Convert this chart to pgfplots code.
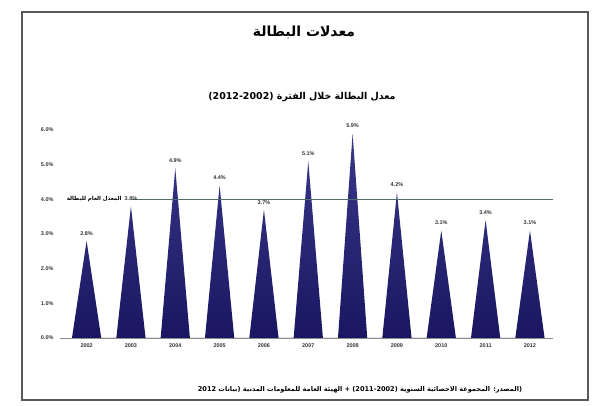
\documentclass[border=0pt]{standalone}
\usepackage{fontspec}
\usepackage{pgfplots}
\pgfplotsset{compat=1.18}
\setmainfont{Liberation Sans}
\newfontfamily\arabicfont[Script=Arabic]{DejaVu Sans}
\TeXXeTstate=1
\definecolor{navyD}{RGB}{26,22,98}
\definecolor{navyL}{RGB}{58,56,138}
\definecolor{avgline}{RGB}{80,110,110}
\begin{document}
\begin{tikzpicture}
\useasboundingbox (0bp,0bp) rectangle (596bp,406bp);
\draw[black!65, line width=1.3bp] (22bp,6bp) rectangle (588bp,394bp);
\node[font=\arabicfont\bfseries\fontsize{14}{16}\selectfont] at (304bp,374bp) {\beginR معدلات البطالة\endR};
\node[font=\arabicfont\bfseries\fontsize{9.5}{11}\selectfont] at (302bp,309bp) {\beginR معدل البطالة خلال الفترة \beginL(2012-2002)\endL\endR};
\node[font=\arabicfont\bfseries\fontsize{6.6}{7.5}\selectfont] at (360bp,16bp) {\beginR(المصدر: المجموعة الاحصائية السنوية \beginL(2011-2002)\endL{} + الهيئة العامة للمعلومات المدنية (بيانات \beginL2012\endL\endR};
\begin{axis}[
    at={(60bp,68bp)}, anchor=south west,
    scale only axis, width=493bp, height=208bp,
    xmin=-0.6, xmax=10.52, ymin=0, ymax=6,
    axis lines*=left,
    y axis line style={draw=none},
    x axis line style={black!45, -},
    tick style={draw=none},
    xtick={0,...,10},
    xticklabels={2002,2003,2004,2005,2006,2007,2008,2009,2010,2011,2012},
    ytick={0,1,2,3,4,5,6},
    yticklabel={\pgfmathprintnumber[fixed,fixed zerofill,precision=1]{\tick}\%},
    /pgf/number format/assume math mode=true,
    ticklabel style={font=\bfseries\fontsize{5.5}{6}\selectfont, text=black!80},
    xticklabel style={yshift=-2bp},
    yticklabel style={xshift=-3bp},
    clip=false,
]
% triangles: base half-width 0.33, peaks at the yearly rates
\addplot[draw=none, shading=axis, bottom color=navyD, top color=navyL] coordinates {
  (-0.33,0) (0,2.8) (0.33,0)
  (0.67,0) (1,3.8) (1.33,0)
  (1.67,0) (2,4.9) (2.33,0)
  (2.67,0) (3,4.4) (3.33,0)
  (3.67,0) (4,3.7) (4.33,0)
  (4.67,0) (5,5.1) (5.33,0)
  (5.67,0) (6,5.9) (6.33,0)
  (6.67,0) (7,4.2) (7.33,0)
  (7.67,0) (8,3.1) (8.33,0)
  (8.67,0) (9,3.4) (9.33,0)
  (9.67,0) (10,3.1) (10.33,0)
} --cycle;
% value labels
\addplot[draw=none, mark=none,
  nodes near coords={\pgfmathprintnumber[fixed,fixed zerofill,precision=1]{\pgfplotspointmeta}\%},
  nodes near coords style={font=\bfseries\fontsize{5.5}{6}\selectfont, text=black!80, anchor=south, yshift=2bp}]
  coordinates {(0,2.8) (1,3.8) (2,4.9) (3,4.4) (4,3.7) (5,5.1) (6,5.9) (7,4.2) (8,3.1) (9,3.4) (10,3.1)};
% average line
\addplot[avgline, line width=0.8bp] coordinates {(1.02,4.0) (10.52,4.0)};
\node[anchor=east, inner sep=1bp, xshift=-9bp, font=\arabicfont\bfseries\fontsize{5.5}{6}\selectfont]
  at (axis cs:1.02,4.0) {\beginR المعدل العام للبطالة\endR};
\end{axis}
\end{tikzpicture}
\end{document}
